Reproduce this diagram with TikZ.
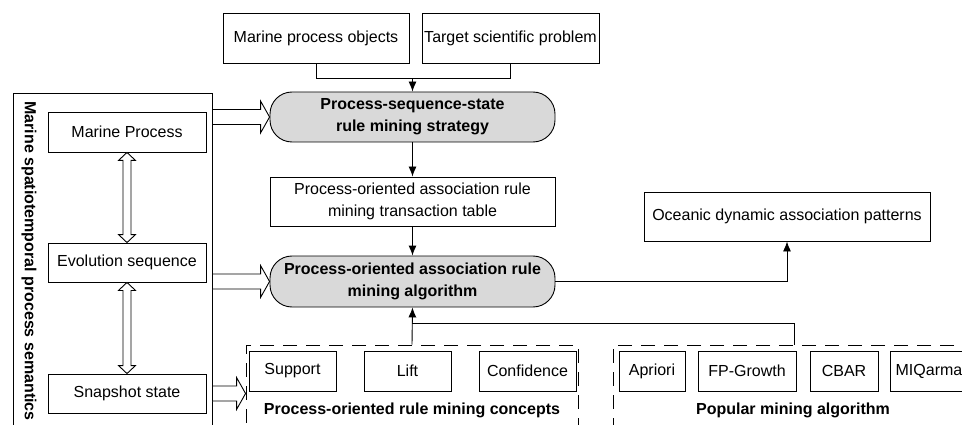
\documentclass[tikz,border=0pt]{standalone}
\usepackage{fontspec}
\setmainfont{Liberation Sans}
\usetikzlibrary{arrows.meta,calc}

\tikzset{
  box/.style={draw, line width=0.9pt, minimum height=40pt, inner sep=2pt, align=center},
  pill/.style={box, fill=black!15, rounded corners=22pt, font=\fontsize{16}{22}\selectfont\bfseries},
  dashbox/.style={draw, line width=0.9pt, dash pattern=on 14pt off 9pt},
  arr/.style={line width=0.9pt, -{Latex[length=10pt,width=8pt]}},
  fat/.style={draw, line width=0.9pt, fill=white,
    to path={let \p1=(\tikztostart), \p2=(\tikztotarget) in
      (\x1,\y1+7.5pt) -- (\x2-9pt,\y1+7.5pt) -- (\x2-9pt,\y1+16pt) -- (\x2,\y1)
      -- (\x2-9pt,\y1-16pt) -- (\x2-9pt,\y1-7.5pt) -- (\x1,\y1-7.5pt) -- cycle}},
  dbl/.style={draw, line width=0.9pt, fill=white,
    to path={let \p1=(\tikztostart), \p2=(\tikztotarget) in
      (\x1,\y1) -- (\x1+8.5pt,\y1-8pt) -- (\x1+4pt,\y1-8pt) -- (\x1+4pt,\y2+8pt)
      -- (\x1+8.5pt,\y2+8pt) -- (\x1,\y2) -- (\x1-8.5pt,\y2+8pt) -- (\x1-4pt,\y2+8pt)
      -- (\x1-4pt,\y1-8pt) -- (\x1-8.5pt,\y1-8pt) -- cycle}}
}

\begin{document}
\begin{tikzpicture}[x=1pt, y=-1pt, font=\fontsize{16}{22}\selectfont]
    \clip (0,0) rectangle (962,425);
    % top inputs
    \node[box, minimum width=186pt, minimum height=50pt] (obj) at (316,38) {Marine process objects};
    \node[box, minimum width=177pt, minimum height=50pt] (tsp) at (510.5,38) {Target scientific problem};
    \node[pill, minimum width=285pt, minimum height=50pt] (strat) at (412.5,117) {Process-sequence-state\\rule mining strategy};
    \node[box, minimum width=285pt, minimum height=49pt] (tab) at (412.5,201.5) {Process-oriented association rule\\mining transaction table};
    \node[pill, minimum width=285pt, minimum height=51pt] (alg) at (412.5,281.5) {Process-oriented association rule\\mining algorithm};
    \node[box, minimum width=286pt, minimum height=49pt] (ocean) at (787,216.5) {Oceanic dynamic association patterns};
    % semantics column
    \node[box, minimum width=199pt, minimum height=357pt] (sem) at (112.5,271.5) {};
    \node[rotate=-90, font=\fontsize{16}{22}\selectfont\bfseries] (semlab) at (29,261) {Marine spatiotemporal process semantics};
    \node[box, minimum width=158pt] (mp) at (127,132) {Marine Process};
    \node[box, minimum width=158pt, minimum height=39pt] (evo) at (127,262.5) {Evolution sequence};
    \node[box, minimum width=158pt, minimum height=39pt] (snap) at (127,393.5) {Snapshot state};
    % concepts and algorithms
    \node[dashbox, minimum width=332pt, minimum height=100pt] (conc) at (412,395) {};
    \node[dashbox, minimum width=362pt, minimum height=100pt] (pop) at (794,395) {};
    \node[box, minimum width=87pt] (sup) at (292.5,371) {Support};
    \node[box, minimum width=87pt] (lift) at (407.5,371) {Lift};
    \node[box, minimum width=97pt] (conf) at (527.5,371) {Confidence};
    \node[box, minimum width=66pt] (apr) at (652,371) {Apriori};
    \node[box, minimum width=98pt] (fpg) at (747,371) {FP-Growth};
    \node[box, minimum width=68pt] (cbar) at (844,371) {CBAR};
    \node[box, minimum width=78pt] (miq) at (929,371) {MIQarma};
    \node[font=\fontsize{16}{22}\selectfont\bfseries] (conclab) at (412,410) {Process-oriented rule mining concepts};
    \node[font=\fontsize{16}{22}\selectfont\bfseries] (poplab) at (793,410) {Popular mining algorithm};
    % connectors
    \coordinate (join) at ($(obj.south)!0.5!(tsp.south) + (0,15)$);
    \draw[line width=0.9pt] (obj.south) |- (join -| tsp.south) -- (tsp.south);
    \draw[arr] (join -| strat.north) -- (strat.north);
    \draw[arr] (strat.south) -- (tab.north);
    \draw[arr] (tab.south) -- (alg.north);
    \draw[arr] (alg.east) -| (ocean.south);
    \draw[arr] (conc.north) -- (alg.south);
    \draw[line width=0.9pt] (pop.north) |- ($(alg.south)!0.42!(conc.north)$);
    \draw[fat] (sem.east |- strat.west) to (strat.west);
    \draw[fat] (sem.east |- alg.west) to (alg.west);
    \draw[fat] (sem.east |- snap.east) to (conc.west |- snap.east);
    \draw[dbl] (mp.south) to (evo.north);
    \draw[dbl] (evo.south) to (snap.north);
\end{tikzpicture}
\end{document}
